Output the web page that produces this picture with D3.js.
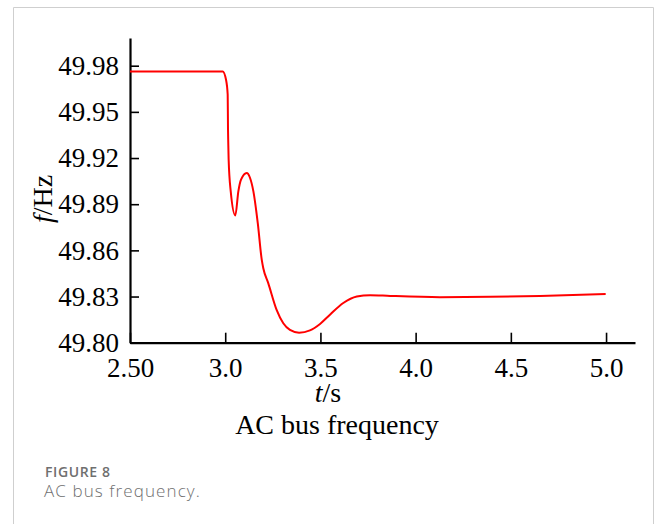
<!doctype html>
<html lang="en">
<head>
<meta charset="utf-8">
<title>AC bus frequency</title>
<script src="https://cdn.jsdelivr.net/npm/d3@7/dist/d3.min.js"></script>
<style>
	body{
		margin:0px;
		padding:0px;
		background:#fff;
	}
	.serif text, text.serif{
		font-family:"Liberation Serif","DejaVu Serif",serif;
		fill:#000;
	}
</style>
</head>
<body>
<svg id="chartSvg"></svg>
<script>
// time (s) and frequency (Hz)
var timeS = [2.50, 2.80, 2.987, 3.004, 3.013, 3.0147, 3.016, 3.018, 3.029, 3.053, 3.069, 3.083, 3.113, 3.130, 3.148, 3.171,
	3.192, 3.200, 3.226, 3.270, 3.305, 3.340, 3.388, 3.445, 3.498, 3.550, 3.620, 3.691, 3.761, 3.866, 4.128, 4.391, 4.653, 4.998];
var freqHz = [49.9763, 49.9763, 49.9763, 49.971, 49.9613, 49.9385, 49.930, 49.919, 49.8983, 49.8827, 49.8983, 49.9059, 49.9103, 49.9072, 49.8983, 49.8777,
	49.8538, 49.8484, 49.8387, 49.8213, 49.8126, 49.8083, 49.8065, 49.8080, 49.8122, 49.8182, 49.8258, 49.8300, 49.8309, 49.8304, 49.8296, 49.8298, 49.8304, 49.8317];
var xTicks = [2.5, 3.0, 3.5, 4.0, 4.5, 5.0];
var xTickLabels = ["2.50", "3.0", "3.5", "4.0", "4.5", "5.0"];
var yTicks = [49.80, 49.83, 49.86, 49.89, 49.92, 49.95, 49.98];

var width = 656, height = 524;
var mLeft = 130, mRight = 635, mTop = 38, mBottom = 342.7;

var svg = d3.select("#chartSvg").attr("width", width).attr("height", height);

// card frame (no bottom edge)
svg.append("path")
	.attr("d", "M13.5,524 L13.5,7.5 L653.5,7.5 L653.5,524")
	.attr("fill", "none")
	.attr("stroke", "#cfcfcf")
	.attr("stroke-width", 1);

var xScale = d3.scaleLinear().domain([2.5, 5.152]).range([mLeft, mRight]);
var yScale = d3.scaleLinear().domain([49.80, 49.998]).range([mBottom, mTop]);

// x axis
var xAxis = d3.axisBottom(xScale)
	.tickValues(xTicks)
	.tickFormat(function(d, i){ return xTickLabels[i]; })
	.tickSizeInner(-10)
	.tickSizeOuter(0)
	.tickPadding(15);
var gx = svg.append("g")
	.attr("class", "serif")
	.attr("transform", "translate(0," + mBottom + ")")
	.call(xAxis);
gx.select(".domain").attr("stroke-width", 2.2);
gx.selectAll(".tick line").attr("stroke-width", 1.6);
gx.selectAll(".tick text").attr("font-size", 27).attr("font-family", null);

// y axis
var yAxis = d3.axisLeft(yScale)
	.tickValues(yTicks)
	.tickFormat(d3.format(".2f"))
	.tickSizeInner(-9)
	.tickSizeOuter(0)
	.tickPadding(11);
var gy = svg.append("g")
	.attr("class", "serif")
	.attr("transform", "translate(" + mLeft + ",0)")
	.call(yAxis);
gy.select(".domain").attr("stroke-width", 2.2);
gy.selectAll(".tick line").attr("stroke-width", 1.6);
gy.selectAll(".tick text").attr("font-size", 27).attr("font-family", null);

// frequency curve
var pts = timeS.map(function(t, i){ return [t, freqHz[i]]; });
var line = d3.line()
	.x(function(d){ return xScale(d[0]); })
	.y(function(d){ return yScale(d[1]); })
	.curve(d3.curveMonotoneX);
svg.append("path")
	.datum(pts)
	.attr("d", line)
	.attr("fill", "none")
	.attr("stroke", "#ff0000")
	.attr("stroke-width", 2);

// axis titles
var yl = svg.append("text")
	.attr("class", "serif")
	.attr("transform", "translate(52,199) rotate(-90)")
	.attr("text-anchor", "middle")
	.attr("font-size", 28);
yl.append("tspan").attr("font-style", "italic").text("f");
yl.append("tspan").text("/Hz");

var xl = svg.append("text")
	.attr("class", "serif")
	.attr("x", 328)
	.attr("y", 402)
	.attr("text-anchor", "middle")
	.attr("font-size", 28);
xl.append("tspan").attr("font-style", "italic").text("t");
xl.append("tspan").text("/s");

svg.append("text")
	.attr("class", "serif")
	.attr("x", 337)
	.attr("y", 434)
	.attr("text-anchor", "middle")
	.attr("font-size", 28)
	.text("AC bus frequency");

// figure caption
svg.append("text")
	.attr("x", 45)
	.attr("y", 477)
	.attr("font-family", "'Open Sans', sans-serif")
	.attr("font-weight", 600)
	.attr("font-size", 14)
	.attr("letter-spacing", 0.6)
	.attr("fill", "#6f6f6f")
	.text("FIGURE 8");
svg.append("text")
	.attr("x", 44)
	.attr("y", 497)
	.attr("font-family", "'Open Sans', sans-serif")
	.attr("font-weight", 300)
	.attr("font-size", 17)
	.attr("letter-spacing", 1.1)
	.attr("fill", "#6f6f6f")
	.text("AC bus frequency.");
</script>
</body>
</html>
